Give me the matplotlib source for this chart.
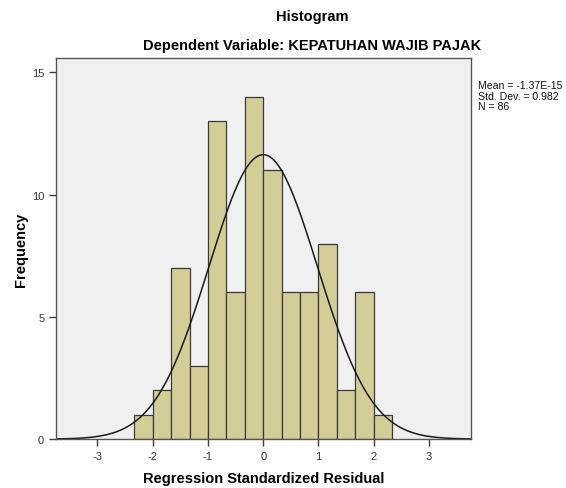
import numpy as np
import matplotlib
matplotlib.use("Agg")
import matplotlib.pyplot as plt

plt.rcParams["font.family"] = ["Liberation Sans", "DejaVu Sans"]
plt.rcParams["axes.unicode_minus"] = False

# Histogram data
bin_edges = [-2.333, -2.0, -1.667, -1.333, -1.0, -0.667, -0.333, 0.0,
             0.333, 0.667, 1.0, 1.333, 1.667, 2.0, 2.333]
counts = [1, 2, 7, 3, 13, 6, 14, 11, 6, 6, 8, 2, 6, 1]
mean = -1.37e-15
std = 0.982
n = 86

fig = plt.figure(figsize=(5.66, 4.89), dpi=100)
ax = fig.add_axes([0.099, 0.100, 0.733, 0.779])
ax.set_facecolor("#F0F0F0")

lefts = np.array(bin_edges[:-1])
widths = np.diff(bin_edges)
ax.bar(lefts, counts, width=widths, align="edge", color="#D3CE97",
       edgecolor="#3a3a3a", linewidth=0.9)

# Normal curve scaled to the histogram
xs = np.linspace(-3.75, 3.75, 400)
bw = widths[0]
ys = n * bw / (std * np.sqrt(2 * np.pi)) * np.exp(-0.5 * ((xs - mean) / std) ** 2)
ax.plot(xs, ys, color="#1a1a1a", linewidth=1.1)

ax.set_xlim(-3.75, 3.76)
ax.set_ylim(0, 15.58)
ax.set_xticks([-3, -2, -1, 0, 1, 2, 3])
ax.set_yticks([0, 5, 10, 15])
ax.tick_params(direction="out", length=5, width=1, colors="#3a3a3a",
               labelsize=8, labelcolor="#333333")
for s in ax.spines.values():
    s.set_color("#555555")
    s.set_linewidth(1.0)

ax.set_xlabel("Regression Standardized Residual", fontsize=10.5,
              fontweight="bold", labelpad=7)
ax.set_ylabel("Frequency", fontsize=10.5, fontweight="bold", labelpad=3)

fig.text(312 / 566, 1 - 17 / 489, "Histogram", ha="center", va="center",
         fontsize=10.5, fontweight="bold")
fig.text(312 / 566, 1 - 46 / 489, "Dependent Variable: KEPATUHAN WAJIB PAJAK",
         ha="center", va="center", fontsize=10.5, fontweight="bold")

fig.text(478 / 566, 1 - 81 / 489,
         "Mean = -1.37E-15\nStd. Dev. = 0.982\nN = 86",
         ha="left", va="top", fontsize=7.6, linespacing=1.08, color="#111111")

fig.savefig("out.png", dpi=100)
